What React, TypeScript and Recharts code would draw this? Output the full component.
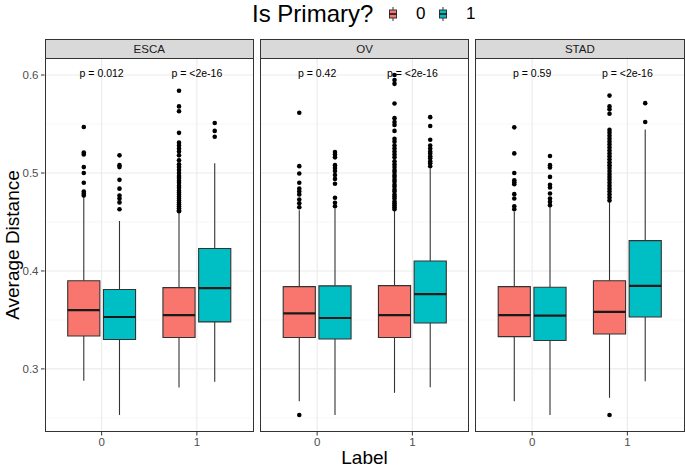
import React from 'react';
import { ComposedChart, XAxis, YAxis, Scatter, ReferenceArea, ReferenceLine, ReferenceDot } from 'recharts';

const panels = ['ESCA', 'OV', 'STAD'];
const labelTicks = ['0', '1'];
const primaryGroups = ['0', '1'];
const groupColors = ['#F8766D', '#00BFC4'];
const pLabel0 = ['p = 0.012', 'p = 0.42', 'p = 0.59'];
const pLabel1 = ['p = <2e-16', 'p = <2e-16', 'p = <2e-16'];

// box stats, ordered panel -> label -> primary
const lowWhisker = [0.288, 0.253, 0.281, 0.287, 0.267, 0.253, 0.2756, 0.2813, 0.267, 0.253, 0.2705, 0.2874];
const q1 = [0.3336, 0.33, 0.332, 0.348, 0.332, 0.3305, 0.332, 0.3468, 0.333, 0.329, 0.3356, 0.353];
const median = [0.36, 0.353, 0.355, 0.3824, 0.3566, 0.352, 0.355, 0.3763, 0.355, 0.3543, 0.3583, 0.3848];
const q3 = [0.39, 0.381, 0.383, 0.423, 0.384, 0.3848, 0.385, 0.4102, 0.384, 0.3834, 0.39, 0.431];
const highWhisker = [0.4757, 0.451, 0.46, 0.51, 0.462, 0.4638, 0.462, 0.5045, 0.4604, 0.4655, 0.4706, 0.5445];

const escaOut00 = [0.547, 0.521, 0.519, 0.506, 0.5, 0.49, 0.481, 0.479, 0.477];
const escaOut01 = [0.518, 0.508, 0.506, 0.493, 0.484, 0.477, 0.474, 0.47, 0.463];
const escaOut10 = [0.584, 0.568, 0.563, 0.541, 0.531, 0.528, 0.525, 0.522, 0.518, 0.513, 0.509, 0.506, 0.503, 0.5, 0.497, 0.495, 0.492, 0.49, 0.487, 0.485, 0.482, 0.48, 0.478, 0.476, 0.474, 0.472, 0.47, 0.468, 0.466, 0.464, 0.462, 0.461];
const escaOut11 = [0.551, 0.543, 0.537];
const ovOut00 = [0.5615, 0.507, 0.4995, 0.49, 0.484, 0.481, 0.478, 0.473, 0.469, 0.465, 0.253];
const ovOut01 = [0.5215, 0.519, 0.516, 0.508, 0.505, 0.502, 0.498, 0.494, 0.489, 0.4747, 0.4696, 0.466];
const ovOut10 = [0.6, 0.595, 0.591, 0.571, 0.556, 0.552, 0.549, 0.543, 0.535, 0.532, 0.528, 0.525, 0.522, 0.519, 0.516, 0.512, 0.509, 0.506, 0.503, 0.501, 0.498, 0.496, 0.493, 0.491, 0.488, 0.486, 0.483, 0.481, 0.478, 0.476, 0.474, 0.471, 0.469, 0.467, 0.465, 0.463];
const ovOut11 = [0.557, 0.548, 0.534, 0.528, 0.525, 0.522, 0.52, 0.517, 0.515, 0.512, 0.51, 0.507];
const stadOut00 = [0.5466, 0.52, 0.5, 0.4926, 0.4906, 0.4886, 0.4784, 0.474, 0.466, 0.463];
const stadOut01 = [0.5174, 0.508, 0.5056, 0.496, 0.488, 0.4852, 0.479, 0.474, 0.4706, 0.4672];
const stadOut10 = [0.579, 0.568, 0.565, 0.5605, 0.544, 0.541, 0.538, 0.535, 0.532, 0.529, 0.526, 0.523, 0.52, 0.517, 0.514, 0.511, 0.508, 0.505, 0.502, 0.499, 0.496, 0.493, 0.49, 0.487, 0.484, 0.481, 0.478, 0.475, 0.472, 0.253];
const stadOut11 = [0.5713, 0.552];
const outliers = [escaOut00, escaOut01, escaOut10, escaOut11, ovOut00, ovOut01, ovOut10, ovOut11, stadOut00, stadOut01, stadOut10, stadOut11];

const yTicks = [0.3, 0.4, 0.5, 0.6];
const yMinor = [0.25, 0.35, 0.45, 0.55];

const FONT = '"Liberation Sans", Arial, Helvetica, sans-serif';
const Y_DOMAIN: [number, number] = [0.2356, 0.6174];
const PANEL_W = 209.5;
const Y_AXIS_W = 44.5;
const PANEL_LEFTS = [44.5, 259.8, 475.1];
const PLOT_TOP = 58;
const PLOT_H = 374;
const DODGE = 0.1875;
const HALF = 0.16875;
const KEY_LEFTS = [387.5, 438];
const KEY_LABEL_LEFTS = [416, 466];

const Dot = (p: any) => <circle cx={p.cx} cy={p.cy} r={2.3} fill="#000" />;

function Panel({ pi }: { pi: number }) {
  const showY = pi === 0;
  const boxes: React.ReactNode[] = [];
  const pts: { x: number; y: number }[] = [];
  labelTicks.forEach((_, li) => {
    primaryGroups.forEach((__, gi) => {
      const k = pi * 4 + li * 2 + gi;
      const cx = li + 1 + (gi === 0 ? -DODGE : DODGE);
      outliers[k].forEach((v) => pts.push({ x: cx, y: v }));
      boxes.push(
        <ReferenceLine key={`wu${k}`} segment={[{ x: cx, y: q3[k] }, { x: cx, y: highWhisker[k] }]} stroke="#333" strokeWidth={1.1} zIndex={90} />,
        <ReferenceLine key={`wl${k}`} segment={[{ x: cx, y: lowWhisker[k] }, { x: cx, y: q1[k] }]} stroke="#333" strokeWidth={1.1} zIndex={90} />,
        <ReferenceArea key={`b${k}`} x1={cx - HALF} x2={cx + HALF} y1={q1[k]} y2={q3[k]} fill={groupColors[gi]} fillOpacity={1} stroke="#333" strokeWidth={1.1} zIndex={100} />,
        <ReferenceLine key={`m${k}`} segment={[{ x: cx - HALF, y: median[k] }, { x: cx + HALF, y: median[k] }]} stroke="#1a1a1a" strokeWidth={2.2} zIndex={150} />
      );
    });
  });
  return (
    <ComposedChart width={showY ? Y_AXIS_W + PANEL_W : PANEL_W} height={PLOT_H + 26} margin={{ top: 0, right: 0, bottom: 0, left: 0 }}>
      <XAxis type="number" dataKey="x" domain={[0.4, 2.6]} ticks={[1, 2]} interval={0} allowDataOverflow
        tickFormatter={(v: number) => labelTicks[v - 1]} axisLine={false} tickLine={{ stroke: '#333' }}
        tickSize={3.5} tickMargin={2.5} height={26} tick={{ fill: '#4D4D4D', fontSize: 11.5, fontFamily: FONT }} />
      <YAxis type="number" dataKey="y" domain={Y_DOMAIN} ticks={yTicks} interval={0} allowDataOverflow hide={!showY}
        width={Y_AXIS_W} axisLine={false} tickLine={{ stroke: '#333' }} tickSize={3.5} tickMargin={2.5}
        tick={{ fill: '#4D4D4D', fontSize: 11.5, fontFamily: FONT }} />
      {yMinor.map((v) => <ReferenceLine key={`n${v}`} y={v} stroke="#F0F0F0" strokeWidth={0.6} zIndex={-100} />)}
      {yTicks.map((v) => <ReferenceLine key={`g${v}`} y={v} stroke="#EBEBEB" strokeWidth={1.1} zIndex={-100} />)}
      {[1, 2].map((v) => <ReferenceLine key={`v${v}`} x={v} stroke="#EBEBEB" strokeWidth={1.1} zIndex={-100} />)}
      {boxes}
      <Scatter data={pts} shape={Dot} isAnimationActive={false} zIndex={600} />
      <ReferenceDot x={1} y={0.6022} r={1} fill="none" stroke="none" zIndex={2000}
        label={{ value: pLabel0[pi], position: 'center', fill: '#000', fontSize: 10.5, fontFamily: FONT }} />
      <ReferenceDot x={2} y={0.6022} r={1} fill="none" stroke="none" zIndex={2000}
        label={{ value: pLabel1[pi], position: 'center', fill: '#000', fontSize: 10.5, fontFamily: FONT }} />
    </ComposedChart>
  );
}

const LegendKey = ({ color }: { color: string }) => (
  <svg width={10} height={16} style={{ display: 'block' }}>
    <line x1={5} y1={1} x2={5} y2={15} stroke="#333" strokeWidth={1} />
    <rect x={1.5} y={4} width={7} height={8} fill={color} stroke="#333" strokeWidth={1} />
    <line x1={1.5} y1={8} x2={8.5} y2={8} stroke="#1a1a1a" strokeWidth={1.6} />
  </svg>
);

export default function App() {
  return (
    <div style={{ position: 'absolute', left: 0, top: 0, width: 685, height: 471, background: '#fff', fontFamily: FONT, overflow: 'hidden' }}>
      <div style={{ position: 'absolute', left: 252, top: 0, height: 28, lineHeight: '28px', fontSize: 24, color: '#000' }}>Is Primary?</div>
      {primaryGroups.map((g, gi) => (
        <React.Fragment key={g}>
          <div style={{ position: 'absolute', left: KEY_LEFTS[gi], top: 6 }}>
            <LegendKey color={groupColors[gi]} />
          </div>
          <div style={{ position: 'absolute', left: KEY_LABEL_LEFTS[gi], top: 0, height: 28, lineHeight: '28px', fontSize: 17, color: '#000' }}>{g}</div>
        </React.Fragment>
      ))}
      {panels.map((name, pi) => (
        <React.Fragment key={name}>
          <div style={{ position: 'absolute', left: PANEL_LEFTS[pi], top: 38.5, width: PANEL_W, height: 20, boxSizing: 'border-box',
            background: '#D9D9D9', border: '1px solid #333', fontSize: 11.5, color: '#1A1A1A', display: 'flex', alignItems: 'center', justifyContent: 'center' }}>
            {name}
          </div>
          <div style={{ position: 'absolute', left: pi === 0 ? 0 : PANEL_LEFTS[pi], top: PLOT_TOP }}>
            <Panel pi={pi} />
          </div>
          <div style={{ position: 'absolute', left: PANEL_LEFTS[pi], top: PLOT_TOP, width: PANEL_W, height: PLOT_H, boxSizing: 'border-box',
            border: '1px solid #333', pointerEvents: 'none' }} />
        </React.Fragment>
      ))}
      <div style={{ position: 'absolute', left: 13 - 150, top: 245 - 12, width: 300, height: 24, lineHeight: '24px', textAlign: 'center',
        fontSize: 19, transform: 'rotate(-90deg)', color: '#000' }}>Average Distance</div>
      <div style={{ position: 'absolute', left: 44.5, width: 640, top: 446, height: 24, lineHeight: '24px', textAlign: 'center', fontSize: 19, color: '#000' }}>Label</div>
    </div>
  );
}
